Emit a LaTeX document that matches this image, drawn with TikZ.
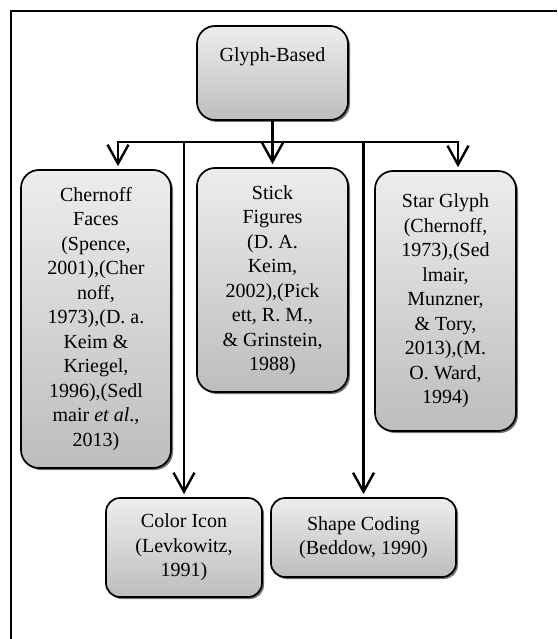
\documentclass[tikz,border=0pt]{standalone}
\usepackage{fontspec}
\setmainfont{Liberation Serif}
\usepackage{xcolor}
\usepackage{tikz}
\usetikzlibrary{arrows.meta,positioning,shadows}
\definecolor{boxtop}{HTML}{EDEDED}
\definecolor{boxbot}{HTML}{BDBDBD}

\begin{document}
\begin{tikzpicture}[
  x=1pt, y=-1pt,
  font=\fontsize{20}{24.5}\selectfont,
  box/.style={draw, line width=1.7pt, rounded corners=18pt, align=center, inner sep=0pt,
    top color=boxtop, bottom color=boxbot,
    drop shadow={shadow xshift=2pt, shadow yshift=-2pt, fill=black!55, opacity=1}},
  small/.style={box, rounded corners=14pt},
  arr/.style={-{Straight Barb[length=19pt, width=21pt, line width=2.4pt]}, line width=2.6pt, shorten >=3pt},
  frame/.style={line width=2pt},
]
\useasboundingbox (0,0) rectangle (557,639);
\draw[frame] (11,639) -- (11,11) -- (557,11);

\node[box, minimum width=151pt, minimum height=94pt, text height=14pt, text depth=36pt] (glyph) at (272.5,73) {Glyph-Based};
\node[box, minimum width=150pt, minimum height=298pt] (chernoff) at (96,319) {Chernoff\\Faces\\(Spence,\\2001),(Cher\\noff,\\1973),(D. a.\\Keim \&\\Kriegel,\\1996),(Sedl\\mair \textit{et al}.,\\2013)};
\node[box, minimum width=151pt, minimum height=224pt] (stick) at (272.5,280) {Stick\\Figures\\(D. A.\\Keim,\\2002),(Pick\\ett, R. M.,\\\& Grinstein,\\1988)};
\node[box, minimum width=141pt, minimum height=260pt] (star) at (445.5,301) {Star Glyph\\(Chernoff,\\1973),(Sed\\lmair,\\Munzner,\\\& Tory,\\2013),(M.\\O. Ward,\\1994)};
\node[small, minimum width=156pt, minimum height=99pt] (color) at (184,547.5) {Color Icon\\(Levkowitz,\\1991)};
\node[small, minimum width=185pt, minimum height=79pt] (shape) at (363.5,537.5) {Shape Coding\\(Beddow, 1990)};

\coordinate (bar) at (272.5,142);
\draw[arr] (glyph) -- (stick);
\draw[arr] (bar) -| ([xshift=22pt]chernoff.north);
\draw[arr] (bar) -| ([xshift=12.5pt]star.north);
\draw[arr] (color.north |- bar) -- (color.north);
\draw[arr] (shape.north |- bar) -- (shape.north);
\end{tikzpicture}
\end{document}
